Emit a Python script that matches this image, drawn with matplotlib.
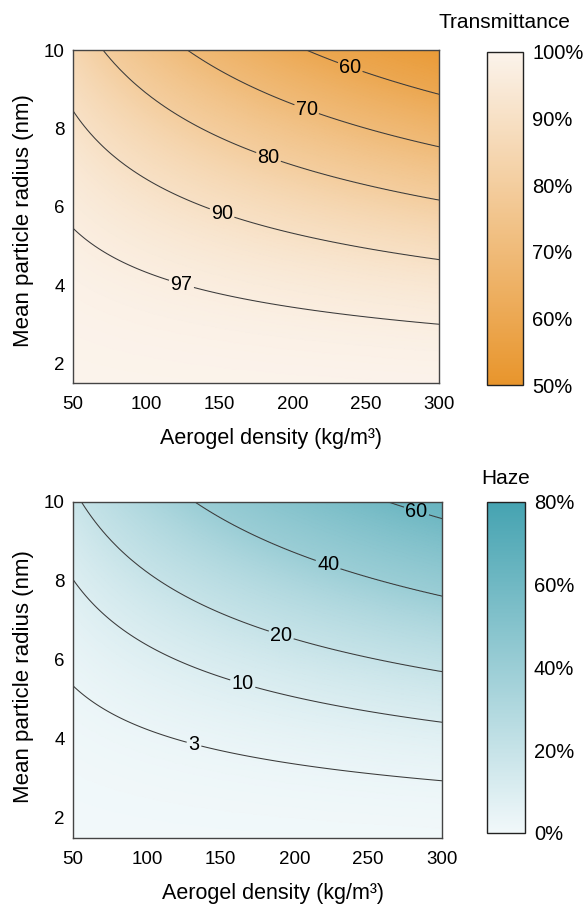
import numpy as np
import matplotlib
matplotlib.use('Agg')
import matplotlib.pyplot as plt
from matplotlib.colors import LinearSegmentedColormap

plt.rcParams['font.family'] = ['Liberation Sans', 'DejaVu Sans']

# both maps depend only on density * radius^3, so each contour is read
# off once, as the radius where it meets the right edge (300 kg/m3)
rho_edge = 300
t_levels = [97, 90, 80, 70, 60]
t_r_at_edge = [3.00, 4.65, 6.17, 7.53, 8.87]
t_corner = 53          # value at (300, 10), estimated
h_levels = [3, 10, 20, 40, 60]
h_r_at_edge = [2.94, 4.42, 5.70, 7.61, 9.57]
h_corner = 64

rho_min, rho_max = 50, 300
r_min, r_max = 1.5, 10

# label spots (layout only)
t_label_pos = [(124, 4.02), (152, 5.86), (183, 7.21), (209, 8.43), (239, 9.53)]
h_label_pos = [(132, 3.87), (165, 5.4), (191, 6.62), (223, 8.42), (282, 9.66)]

rho = np.linspace(rho_min, rho_max, 400)
r = np.linspace(r_min, r_max, 400)
R, Y = np.meshgrid(rho, r)
U = R * Y**3
u_corner = rho_max * r_max**3

t_u = [0] + [rho_edge * v**3 for v in t_r_at_edge] + [u_corner]
t_v = [100] + t_levels + [t_corner]
h_u = [0] + [rho_edge * v**3 for v in h_r_at_edge] + [u_corner]
h_v = [0] + h_levels + [h_corner]
T = np.interp(U, t_u, t_v)
H = np.interp(U, h_u, h_v)

cmap_t = LinearSegmentedColormap.from_list('t', ['#E8952C', '#FBF3EB'])
cmap_h = LinearSegmentedColormap.from_list('h', ['#F1F8FA', '#45A3B1'])

fig = plt.figure(figsize=(5.87, 9.07), dpi=100)

panels = [
    (T, t_levels, t_label_pos, cmap_t, 50, 100, [50, 60, 70, 80, 90, 100], 'Transmittance', 17, 0.489,
     [0.1244, 0.5777, 0.6235, 0.3671], [0.829, 0.5755, 0.0624, 0.3675]),
    (H, h_levels, h_label_pos, cmap_h, 0, 80, [0, 20, 40, 60, 80], 'Haze', 13, 0.481,
     [0.1244, 0.0764, 0.6286, 0.3705], [0.829, 0.0816, 0.0650, 0.3653]),
]

for Z, levels, lpos, cmap, vmin, vmax, cticks, ctitle, tpad, ylab_y, apos, cpos in panels:
    ax = fig.add_axes(apos)
    im = ax.pcolormesh(R, Y, Z, cmap=cmap, vmin=vmin, vmax=vmax, shading='gouraud', rasterized=True)
    cs = ax.contour(R, Y, Z, levels=sorted(levels), colors='#3a3a3a', linewidths=0.75)
    labels = ax.clabel(cs, fmt='%d', fontsize=14.3, inline=True, inline_spacing=2,
                       manual=lpos, colors='black')
    for t in labels:
        t.set_rotation(0)
    ax.set_xlim(rho_min, rho_max)
    ax.set_ylim(r_min, r_max)
    ax.set_xticks([50, 100, 150, 200, 250, 300])
    ax.set_yticks([2, 4, 6, 8, 10])
    ax.tick_params(length=0, labelsize=13.5)
    ax.tick_params(axis='x', pad=9.5)
    ax.tick_params(axis='y', pad=6)
    for s in ax.spines.values():
        s.set_color('#444444')
        s.set_linewidth(1.0)
    ax.set_xlabel('Aerogel density (kg/m³)', fontsize=15.5, labelpad=11)
    ax.set_ylabel('Mean particle radius (nm)', fontsize=16, labelpad=7)
    ax.xaxis.label.set_x(0.541)
    ax.yaxis.label.set_y(ylab_y)

    cax = fig.add_axes(cpos)
    cb = fig.colorbar(im, cax=cax, ticks=cticks)
    cb.ax.set_yticklabels([f'{v}%' for v in cticks])
    cb.ax.tick_params(length=0, labelsize=14.5, pad=6.5)
    cb.outline.set_edgecolor('#222222')
    cb.outline.set_linewidth(1.0)
    cb.ax.set_title(ctitle, fontsize=15, pad=tpad)

fig.savefig('out.png', dpi=100)
